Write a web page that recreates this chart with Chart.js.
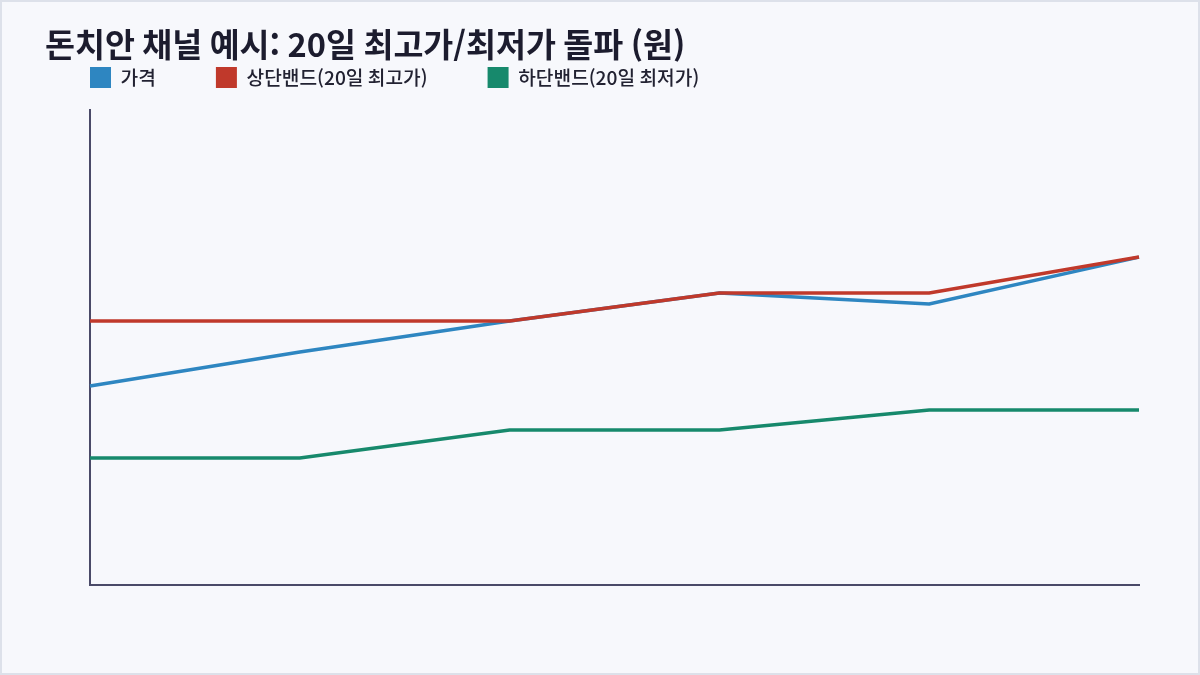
<!DOCTYPE html>
<html lang="ko">
<head>
<meta charset="utf-8">
<script src="https://cdn.jsdelivr.net/npm/chart.js@4"></script>
<style>
  html, body { margin: 0; padding: 0; background: #f7f8fc; }
  #wrap { position: relative; width: 1200px; height: 675px; }
  #frame { position: absolute; left: 0; top: 0; width: 1200px; height: 675px; box-sizing: border-box; border: 2px solid #dde1ea; pointer-events: none; }
  canvas { display: block; }
</style>
</head>
<body>
<div id="wrap">
  <canvas id="c" width="1200" height="675"></canvas>
  <div id="frame"></div>
</div>
<script>
const titleText = '돈치안 채널 예시: 20일 최고가/최저가 돌파 (원)';
const categories = ['T1', 'T2', 'T3', 'T4', 'T5', 'T6'];
const seriesNames = ['가격', '상단밴드(20일 최고가)', '하단밴드(20일 최저가)'];
const priceValues = [9990, 10330, 10640, 10920, 10810, 11280];
const upperValues = [10640, 10640, 10640, 10920, 10920, 11280];
const lowerValues = [9270, 9270, 9550, 9550, 9750, 9750];
const yMin = 8000;
const yMax = 12750;

const FONT = '"Noto Sans CJK KR", "Noto Sans", sans-serif';

const legendPlace = {
  id: 'legendPlace',
  afterLayout(chart) {
    const lg = chart.legend;
    if (lg) { lg.left = 30; lg.top = 7; }
  }
};

new Chart(document.getElementById('c'), {
  type: 'line',
  data: {
    labels: categories,
    datasets: [
      { label: seriesNames[0], data: priceValues, borderColor: '#2e86c1', backgroundColor: '#2e86c1', borderWidth: 3.5, pointRadius: 0, tension: 0, fill: false, order: 2 },
      { label: seriesNames[1], data: upperValues, borderColor: '#c0392b', backgroundColor: '#c0392b', borderWidth: 3.5, pointRadius: 0, tension: 0, fill: false, order: 1 },
      { label: seriesNames[2], data: lowerValues, borderColor: '#17896c', backgroundColor: '#17896c', borderWidth: 3.5, pointRadius: 0, tension: 0, fill: false, order: 3 }
    ]
  },
  options: {
    responsive: false,
    animation: false,
    devicePixelRatio: 1,
    layout: { padding: { left: 45, right: 61, top: 0, bottom: 90 } },
    plugins: {
      tooltip: { enabled: false },
      title: {
        display: true,
        text: titleText,
        align: 'start',
        color: '#1c1c2e',
        font: { family: FONT, size: 32.6, weight: 'bold', lineHeight: 1.2 },
        padding: { top: 25, bottom: 0 }
      },
      legend: {
        display: true,
        align: 'start',
        maxHeight: 46,
        labels: {
          boxWidth: 21,
          boxHeight: 21,
          padding: 60,
          color: '#222232',
          font: { family: FONT, size: 19.2, weight: 500 },
          sort: (a, b) => a.datasetIndex - b.datasetIndex,
          generateLabels: (chart) => chart.data.datasets.map((ds, i) => ({
            text: ds.label, fillStyle: ds.borderColor, strokeStyle: ds.borderColor,
            lineWidth: 0, hidden: false, datasetIndex: i, fontColor: '#222232'
          }))
        }
      }
    },
    scales: {
      x: {
        type: 'category',
        offset: false,
        grid: { display: false, drawTicks: false },
        border: { display: true, color: '#4a4a68', width: 2 },
        ticks: { display: false },
        afterFit: (s) => { s.height = 0; }
      },
      y: {
        type: 'linear',
        min: yMin,
        max: yMax,
        grid: { display: false, drawTicks: false },
        border: { display: true, color: '#4a4a68', width: 2 },
        ticks: { display: false },
        afterFit: (s) => { s.width = 45; }
      }
    }
  },
  plugins: [legendPlace]
});
</script>
</body>
</html>
